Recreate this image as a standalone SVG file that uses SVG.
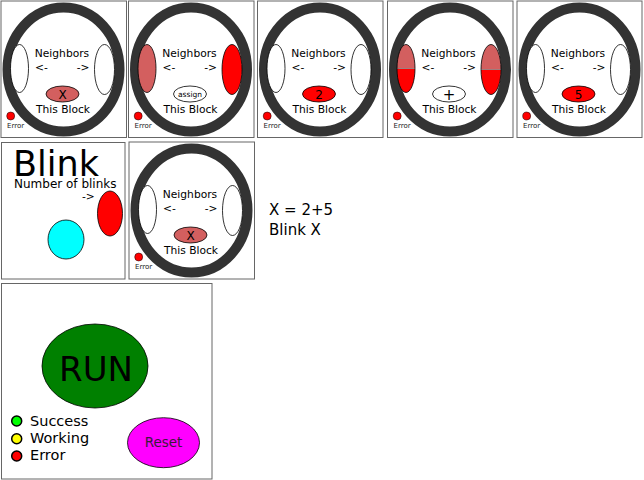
<svg xmlns="http://www.w3.org/2000/svg" width="644" height="480" viewBox="0 0 644 480">
<style>
text{font-family:"DejaVu Sans","Liberation Sans",sans-serif;fill:#000}
.box{fill:#fff;stroke:#666;stroke-width:1}
.ring{fill:none;stroke:#333;stroke-width:10}
.nb{fill:#fff;stroke:#000;stroke-width:0.8}
.pink{fill:#d35f5f}
.red{fill:#f00}
.ol{stroke:#000;stroke-width:0.8}
.t11{font-size:10.7px}
.mid{text-anchor:middle}
.err{font-size:7px;fill:#222}
.edot{fill:#f00;stroke:#000;stroke-width:0.5}
</style>
<rect width="644" height="480" fill="#fff"/>

<g id="panel1" transform="translate(1,1)">
<rect class="box" x="0" y="0" width="125.5" height="136.5"/>
<ellipse class="ring" cx="62.5" cy="68.5" rx="56" ry="62"/>
<ellipse class="nb" cx="18.5" cy="67.5" rx="9" ry="24"/>
<ellipse class="nb" cx="103.5" cy="68.5" rx="10" ry="25"/>
<text class="t11 mid" x="61" y="55.5">Neighbors</text>
<text class="t11" x="34" y="69.5">&lt;-</text>
<text class="t11" x="88.5" y="69.5" text-anchor="end">-&gt;</text>
<ellipse class="pink ol" cx="61.5" cy="93" rx="16.5" ry="8"/>
<text class="mid" x="61.5" y="98" font-size="12">X</text>
<text class="t11 mid" x="62" y="111.5">This Block</text>
<circle class="edot" cx="9.7" cy="115" r="4"/>
<text class="err" x="6" y="127">Error</text>
</g>

<g id="panel2" transform="translate(128.5,1)">
<rect class="box" x="0" y="0" width="125.5" height="136.5"/>
<ellipse class="ring" cx="62.5" cy="68.5" rx="56" ry="62"/>
<ellipse class="pink ol" cx="18.5" cy="67.5" rx="9" ry="24"/>
<ellipse class="red ol" cx="103.5" cy="68.5" rx="10" ry="25"/>
<text class="t11 mid" x="61" y="55.5">Neighbors</text>
<text class="t11" x="34" y="69.5">&lt;-</text>
<text class="t11" x="88.5" y="69.5" text-anchor="end">-&gt;</text>
<ellipse class="nb" cx="61.5" cy="93" rx="16.5" ry="8"/>
<text class="mid" x="61.5" y="96" font-size="7.5">assign</text>
<text class="t11 mid" x="62" y="111.5">This Block</text>
<circle class="edot" cx="9.7" cy="115" r="4"/>
<text class="err" x="6" y="127">Error</text>
</g>

<g id="panel3" transform="translate(257.5,1)">
<rect class="box" x="0" y="0" width="125.5" height="136.5"/>
<ellipse class="ring" cx="62.5" cy="68.5" rx="56" ry="62"/>
<ellipse class="nb" cx="18.5" cy="67.5" rx="9" ry="24"/>
<ellipse class="nb" cx="103.5" cy="68.5" rx="10" ry="25"/>
<text class="t11 mid" x="61" y="55.5">Neighbors</text>
<text class="t11" x="34" y="69.5">&lt;-</text>
<text class="t11" x="88.5" y="69.5" text-anchor="end">-&gt;</text>
<ellipse class="red ol" cx="61.5" cy="93" rx="16.5" ry="8"/>
<text class="mid" x="61.5" y="98" font-size="12">2</text>
<text class="t11 mid" x="62" y="111.5">This Block</text>
<circle class="edot" cx="9.7" cy="115" r="4"/>
<text class="err" x="6" y="127">Error</text>
</g>

<g id="panel4" transform="translate(387.5,1)">
<rect class="box" x="0" y="0" width="125.5" height="136.5"/>
<ellipse class="ring" cx="62.5" cy="68.5" rx="56" ry="62"/>
<path class="pink" d="M9.5,67.5 A9,24 0 0 1 27.5,67.5 Z"/>
<path class="red" d="M9.5,67.5 A9,24 0 0 0 27.5,67.5 Z"/>
<line x1="9.5" y1="67.5" x2="27.5" y2="67.5" stroke="#888" stroke-width="0.8"/>
<ellipse cx="18.5" cy="67.5" rx="9" ry="24" fill="none" stroke="#000" stroke-width="0.8"/>
<path class="pink" d="M93.5,68.5 A10,25 0 0 1 113.5,68.5 Z"/>
<path class="red" d="M93.5,68.5 A10,25 0 0 0 113.5,68.5 Z"/>
<line x1="93.5" y1="68.5" x2="113.5" y2="68.5" stroke="#888" stroke-width="0.8"/>
<ellipse cx="103.5" cy="68.5" rx="10" ry="25" fill="none" stroke="#000" stroke-width="0.8"/>
<text class="t11 mid" x="61" y="55.5">Neighbors</text>
<text class="t11" x="34" y="69.5">&lt;-</text>
<text class="t11" x="88.5" y="69.5" text-anchor="end">-&gt;</text>
<ellipse class="nb" cx="61.5" cy="93" rx="16.5" ry="8"/>
<text class="mid" x="61.5" y="99" font-size="15">+</text>
<text class="t11 mid" x="62" y="111.5">This Block</text>
<circle class="edot" cx="9.7" cy="115" r="4"/>
<text class="err" x="6" y="127">Error</text>
</g>

<g id="panel5" transform="translate(517,1)">
<rect class="box" x="0" y="0" width="125" height="136.5"/>
<ellipse class="ring" cx="62.5" cy="68.5" rx="56" ry="62"/>
<ellipse class="nb" cx="18.5" cy="67.5" rx="9" ry="24"/>
<ellipse class="nb" cx="103.5" cy="68.5" rx="10" ry="25"/>
<text class="t11 mid" x="61" y="55.5">Neighbors</text>
<text class="t11" x="34" y="69.5">&lt;-</text>
<text class="t11" x="88.5" y="69.5" text-anchor="end">-&gt;</text>
<ellipse class="red ol" cx="61.5" cy="93" rx="16.5" ry="8"/>
<text class="mid" x="61.5" y="98" font-size="12">5</text>
<text class="t11 mid" x="62" y="111.5">This Block</text>
<circle class="edot" cx="9.7" cy="115" r="4"/>
<text class="err" x="6" y="127">Error</text>
</g>

<g id="blink">
<rect class="box" x="1.5" y="142.5" width="123.5" height="136.5"/>
<text x="13" y="175.5" font-size="35">Blink</text>
<text x="14" y="188" font-size="12">Number of blinks</text>
<text x="82" y="199.5" font-size="10.7">-&gt;</text>
<ellipse class="red ol" cx="110" cy="213.5" rx="12.5" ry="22.5"/>
<ellipse fill="#0ff" stroke="#000" stroke-width="0.8" cx="66" cy="239.5" rx="18" ry="19.5"/>
</g>

<g id="panel7" transform="translate(129,142)">
<rect class="box" x="0" y="0" width="125.5" height="137"/>
<ellipse class="ring" cx="62.5" cy="68.5" rx="56" ry="62"/>
<ellipse class="nb" cx="18.5" cy="67.5" rx="9" ry="24"/>
<ellipse class="nb" cx="103.5" cy="68.5" rx="10" ry="25"/>
<text class="t11 mid" x="61" y="55.5">Neighbors</text>
<text class="t11" x="34" y="69.5">&lt;-</text>
<text class="t11" x="88.5" y="69.5" text-anchor="end">-&gt;</text>
<ellipse class="pink ol" cx="61.5" cy="93" rx="16.5" ry="8"/>
<text class="mid" x="61.5" y="98" font-size="12">X</text>
<text class="t11 mid" x="62" y="111.5">This Block</text>
<circle class="edot" cx="9.7" cy="115" r="4"/>
<text class="err" x="6" y="127">Error</text>
</g>

<g id="program">
<text x="269" y="215" font-size="15">X = 2+5</text>
<text x="269" y="235" font-size="15">Blink X</text>
</g>

<g id="controls">
<rect class="box" x="1.5" y="283.5" width="210.5" height="195.5"/>
<ellipse fill="#008000" stroke="#000" stroke-width="0.8" cx="95" cy="366" rx="53" ry="42"/>
<text class="mid" x="96" y="381" font-size="34">RUN</text>
<circle cx="16.7" cy="421" r="5" fill="#0f0" stroke="#000" stroke-width="1.5"/>
<circle cx="16.7" cy="438.7" r="5" fill="#ff0" stroke="#000" stroke-width="1.5"/>
<circle cx="16.7" cy="456" r="5" fill="#f00" stroke="#000" stroke-width="1.5"/>
<text x="30" y="425.5" font-size="14.5">Success</text>
<text x="30" y="442.7" font-size="14.5">Working</text>
<text x="30" y="460" font-size="14.5">Error</text>
<ellipse fill="#f0f" stroke="#000" stroke-width="0.8" cx="163.5" cy="442.7" rx="36" ry="25"/>
<text class="mid" x="163.5" y="447" font-size="13.5" style="fill:#3a1a3a">Reset</text>
</g>
</svg>
